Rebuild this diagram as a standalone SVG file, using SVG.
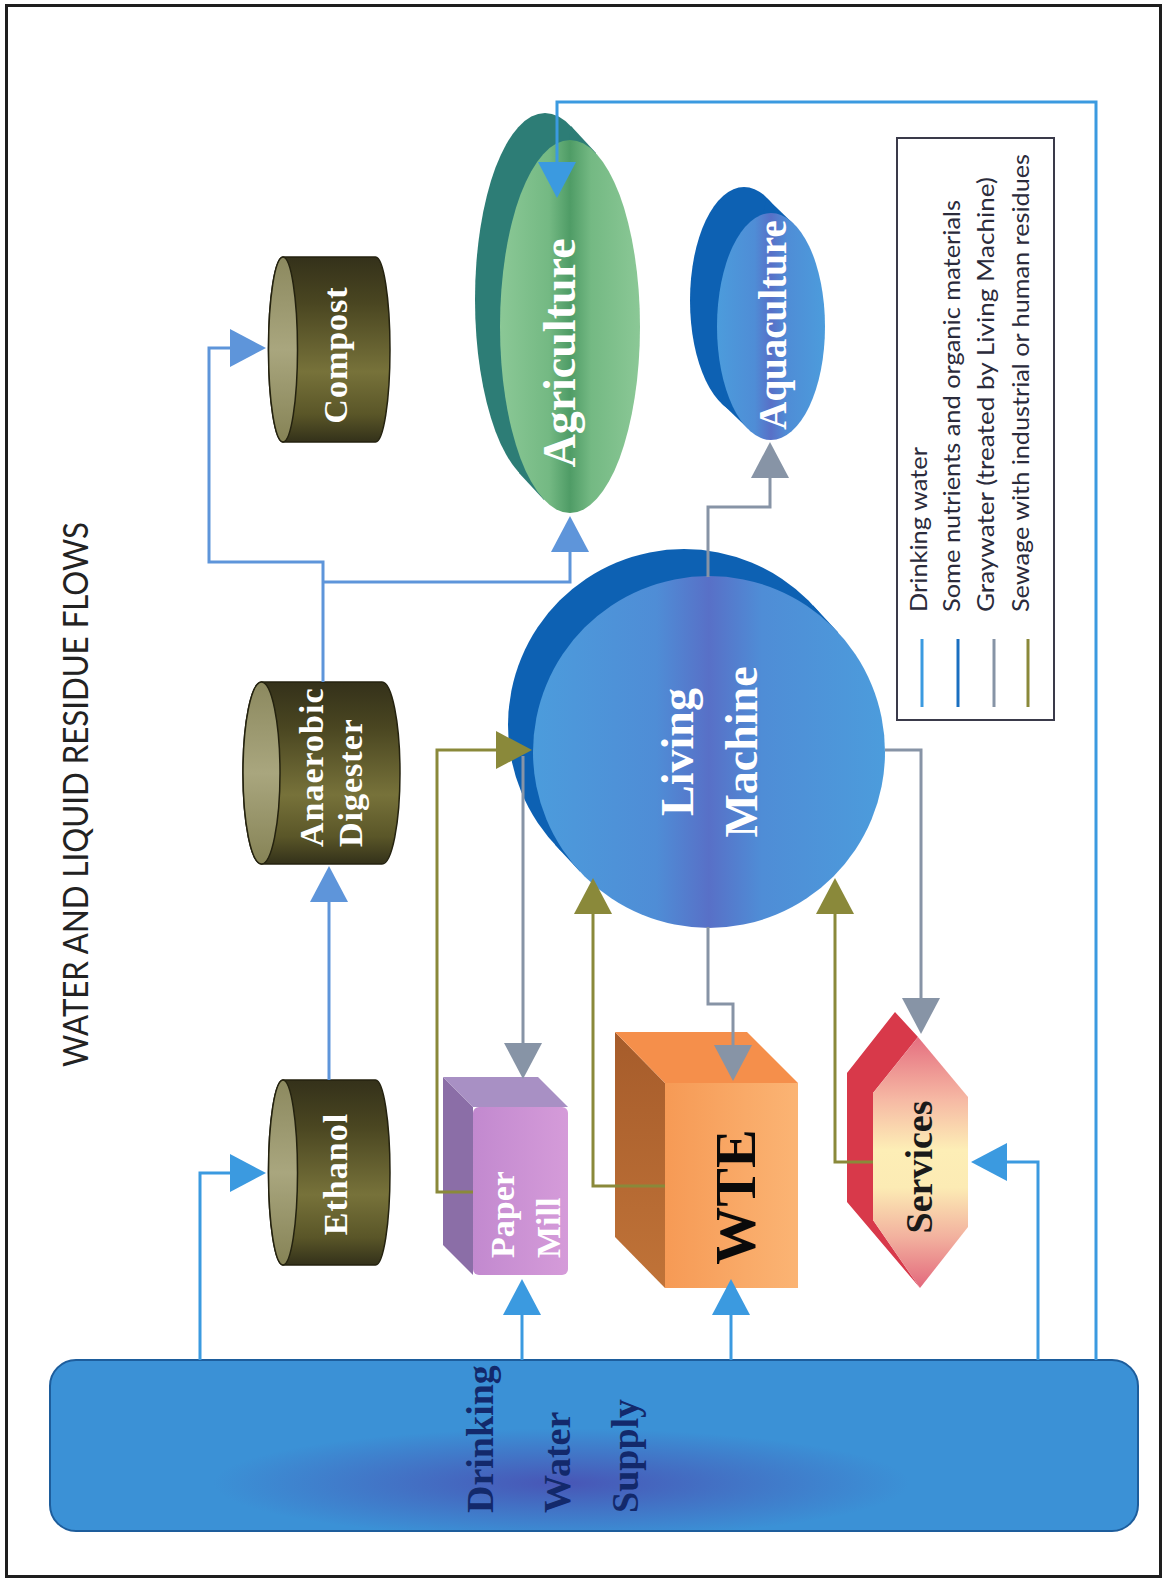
<svg xmlns="http://www.w3.org/2000/svg" width="1166" height="1581" viewBox="0 0 1166 1581">
  <defs>
    <style>
      .lbl{font-family:"Liberation Serif","Times New Roman",serif;font-weight:bold}
      .w{fill:#ffffff}
      .sans{font-family:Lato,"Open Sans","Liberation Sans",sans-serif}
      .ln{fill:none;stroke-width:3;stroke-linejoin:miter}
      .dw{stroke:#3b9ae0}
      .nu{stroke:#5e95da}
      .gr{stroke:#8794a6}
      .ol{stroke:#8a893a}
      .cyl{fill:url(#cylBody);stroke:#24220f;stroke-width:1.5}
      .cylface{fill:url(#cylFace);stroke:#24220f;stroke-width:1.5}
      .back{fill:#0d61b3}
      .legtxt{font-size:23px;fill:#2b2b3b}
    </style>
    <marker id="aDw" markerUnits="userSpaceOnUse" markerWidth="40" markerHeight="40" refX="0" refY="20" orient="auto" overflow="visible"><path d="M0,1 L36,20 L0,39 Z" fill="#3b9ae0"/></marker>
    <marker id="aNu" markerUnits="userSpaceOnUse" markerWidth="40" markerHeight="40" refX="0" refY="20" orient="auto" overflow="visible"><path d="M0,1 L36,20 L0,39 Z" fill="#5e95da"/></marker>
    <marker id="aGr" markerUnits="userSpaceOnUse" markerWidth="40" markerHeight="40" refX="0" refY="20" orient="auto" overflow="visible"><path d="M0,1 L36,20 L0,39 Z" fill="#8794a6"/></marker>
    <marker id="aOl" markerUnits="userSpaceOnUse" markerWidth="40" markerHeight="40" refX="0" refY="20" orient="auto" overflow="visible"><path d="M0,1 L36,20 L0,39 Z" fill="#8a893a"/></marker>

    <linearGradient id="cylBody" x1="0" y1="0" x2="0" y2="1">
      <stop offset="0" stop-color="#34311a"/>
      <stop offset="0.25" stop-color="#4a4621"/>
      <stop offset="0.62" stop-color="#77723a"/>
      <stop offset="0.85" stop-color="#5a5628"/>
      <stop offset="1" stop-color="#33311a"/>
    </linearGradient>
    <linearGradient id="cylFace" x1="0" y1="0" x2="0" y2="1">
      <stop offset="0" stop-color="#8c895f"/>
      <stop offset="0.5" stop-color="#a9a67e"/>
      <stop offset="1" stop-color="#868356"/>
    </linearGradient>
    <linearGradient id="agriFront" x1="0" y1="0" x2="1" y2="0">
      <stop offset="0" stop-color="#8bc896"/>
      <stop offset="0.35" stop-color="#74b983"/>
      <stop offset="0.5" stop-color="#4f9c66"/>
      <stop offset="0.65" stop-color="#74b983"/>
      <stop offset="1" stop-color="#8bc896"/>
    </linearGradient>
    <linearGradient id="blueFront" x1="0" y1="0" x2="1" y2="0">
      <stop offset="0" stop-color="#4c9cdc"/>
      <stop offset="0.35" stop-color="#4f8dd6"/>
      <stop offset="0.5" stop-color="#5870c7"/>
      <stop offset="0.65" stop-color="#4f8dd6"/>
      <stop offset="1" stop-color="#4c9cdc"/>
    </linearGradient>
    <radialGradient id="dwsFill" cx="0.47" cy="0.72" r="0.32">
      <stop offset="0" stop-color="#4856b6"/>
      <stop offset="0.5" stop-color="#4274c6"/>
      <stop offset="1" stop-color="#3b91d6"/>
    </radialGradient>
    <linearGradient id="wteFront" x1="0" y1="0" x2="1" y2="0">
      <stop offset="0" stop-color="#f69a55"/>
      <stop offset="1" stop-color="#fbb474"/>
    </linearGradient>
    <linearGradient id="wteSide" x1="0" y1="0" x2="0" y2="1">
      <stop offset="0" stop-color="#a65c2b"/>
      <stop offset="1" stop-color="#c07338"/>
    </linearGradient>
    <linearGradient id="paperFront" x1="0" y1="0" x2="1" y2="0">
      <stop offset="0" stop-color="#c289cf"/>
      <stop offset="1" stop-color="#d59bd9"/>
    </linearGradient>
    <linearGradient id="servFront" x1="0" y1="0" x2="0" y2="1">
      <stop offset="0" stop-color="#e56f80"/>
      <stop offset="0.25" stop-color="#f6b9a4"/>
      <stop offset="0.45" stop-color="#fdeeb6"/>
      <stop offset="0.6" stop-color="#fcebb4"/>
      <stop offset="0.8" stop-color="#f2b09e"/>
      <stop offset="1" stop-color="#e3687c"/>
    </linearGradient>
  </defs>

  <rect width="1166" height="1581" fill="#ffffff"/>
  <rect x="6.5" y="5.5" width="1154" height="1571" fill="none" stroke="#1e1e1e" stroke-width="3"/>

  <g id="title">
    <text class="sans" font-size="34" fill="#222222" textLength="545" lengthAdjust="spacingAndGlyphs" transform="translate(88,1067) rotate(-90)">WATER AND LIQUID RESIDUE FLOWS</text>
  </g>

  <!-- Drinking water supply tank -->
  <g id="node-supply">
    <rect x="50" y="1360" width="1088" height="171" rx="26" fill="url(#dwsFill)" stroke="#1d5d9c" stroke-width="2"/>
    <g class="lbl" font-size="38" fill="#13296b">
      <text transform="translate(493,1513) rotate(-90)">Drinking</text>
      <text transform="translate(570,1513) rotate(-90)">Water</text>
      <text transform="translate(638,1513) rotate(-90)">Supply</text>
    </g>
  </g>

  <g id="node-compost">
    <path class="cyl" d="M283,257 L375.5,257 A14.5,92.5 0 0 1 375.5,442 L283,442 A14.5,92.5 0 0 1 283,257 Z"/>
    <ellipse class="cylface" cx="283" cy="349.5" rx="14.5" ry="92.5"/>
    <text class="lbl w" font-size="34" letter-spacing="1" text-anchor="middle" transform="translate(347,355) rotate(-90)">Compost</text>
  </g>

  <g id="node-digester">
    <path class="cyl" d="M261.5,682 L382,682 A18,91 0 0 1 382,864 L261.5,864 A18.5,91 0 0 1 261.5,682 Z"/>
    <ellipse class="cylface" cx="261.5" cy="773" rx="18.5" ry="91"/>
    <g class="lbl w" font-size="34" letter-spacing="1">
      <text transform="translate(323,847) rotate(-90)">Anaerobic</text>
      <text transform="translate(362,847) rotate(-90)">Digester</text>
    </g>
  </g>

  <g id="node-ethanol">
    <path class="cyl" d="M283,1080 L375.5,1080 A14.5,92.5 0 0 1 375.5,1265 L283,1265 A14.5,92.5 0 0 1 283,1080 Z"/>
    <ellipse class="cylface" cx="283" cy="1172.5" rx="14.5" ry="92.5"/>
    <text class="lbl w" font-size="34" letter-spacing="1" text-anchor="middle" transform="translate(347,1174) rotate(-90)">Ethanol</text>
  </g>

  <g id="node-agriculture">
    <ellipse cx="545" cy="299.5" rx="70" ry="186.5" fill="#2d7d76"/>
    <polygon points="596,153 571,126 519,473 544,500" fill="#2d7d76"/>
    <ellipse cx="570" cy="326.5" rx="70" ry="186.5" fill="url(#agriFront)"/>
    <text class="lbl w" font-size="46" text-anchor="middle" transform="translate(575,353) rotate(-90)">Agriculture</text>
  </g>

  <g id="node-aquaculture">
    <ellipse cx="744" cy="300.5" rx="54" ry="113.5" class="back"/>
    <polygon points="793.6,224 766.6,198 721.4,403 748.4,429" class="back"/>
    <ellipse cx="771" cy="326.5" rx="54" ry="113.5" fill="url(#blueFront)"/>
    <text class="lbl w" font-size="39" text-anchor="middle" transform="translate(786,325) rotate(-90)">Aquaculture</text>
  </g>

  <g id="node-living-machine">
    <circle cx="684" cy="725" r="176" class="back"/>
    <polygon points="838.2,632.5 813.2,605.5 554.8,844.5 579.8,871.5" class="back"/>
    <circle cx="709" cy="752" r="176" fill="url(#blueFront)"/>
    <g class="lbl w" font-size="46" text-anchor="middle">
      <text transform="translate(693,752) rotate(-90)">Living</text>
      <text transform="translate(757,752) rotate(-90)">Machine</text>
    </g>
  </g>

  <g id="node-paper-mill">
    <polygon points="443,1077 473,1107 473,1275 443,1245" fill="#8b6ea7"/>
    <polygon points="443,1077 538,1077 568,1107 473,1107" fill="#a890c4"/>
    <rect x="473" y="1107" width="95" height="168" rx="6" fill="url(#paperFront)"/>
    <g class="lbl w" font-size="34">
      <text transform="translate(514,1258) rotate(-90)">Paper</text>
      <text transform="translate(560,1258) rotate(-90)">Mill</text>
    </g>
  </g>

  <g id="node-wte">
    <polygon points="615,1032 665,1083 665,1288 615,1237" fill="url(#wteSide)"/>
    <polygon points="615,1032 747,1032 798,1083 665,1083" fill="#f58f4b"/>
    <rect x="665" y="1083" width="133" height="205" fill="url(#wteFront)"/>
    <text class="lbl" font-size="58" fill="#0a0a0a" text-anchor="middle" transform="translate(755,1197) rotate(-90)">WTE</text>
  </g>

  <g id="node-services">
    <polygon points="895,1012 918,1037 873,1093 873,1220 920,1288 847,1202 847,1073" fill="#d8394a"/>
    <polygon points="918,1037 968,1097 968,1227 920,1288 873,1220 873,1093" fill="url(#servFront)"/>
    <text class="lbl" font-size="38" fill="#1a1a1a" text-anchor="middle" transform="translate(932,1167) rotate(-90)">Services</text>
  </g>

  <!-- flow lines -->
  <g id="connectors">
    <path class="ln dw" d="M200,1360 V1173 H230" marker-end="url(#aDw)"/>
    <path class="ln dw" d="M522,1360 V1315" marker-end="url(#aDw)"/>
    <path class="ln dw" d="M731,1360 V1315" marker-end="url(#aDw)"/>
    <path class="ln dw" d="M1038,1360 V1162 H1007" marker-end="url(#aDw)"/>
    <path class="ln dw" d="M1096,1360 V102 H557 V162" marker-end="url(#aDw)"/>

    <path class="ln nu" d="M329,1080 V902" marker-end="url(#aNu)"/>
    <path class="ln nu" d="M323,682 V562 H209 V348 H230" marker-end="url(#aNu)"/>
    <path class="ln nu" d="M323,582 H570 V552" marker-end="url(#aNu)"/>

    <path class="ln gr" d="M708,577 V507 H770 V478" marker-end="url(#aGr)"/>
    <path class="ln gr" d="M523,756 V1043" marker-end="url(#aGr)"/>
    <path class="ln gr" d="M708,927 V1004 H733 V1045" marker-end="url(#aGr)"/>
    <path class="ln gr" d="M885,750 H921 V998" marker-end="url(#aGr)"/>

    <path class="ln ol" d="M473,1192 H437 V750 H496" marker-end="url(#aOl)"/>
    <path class="ln ol" d="M665,1186 H593 V914" marker-end="url(#aOl)"/>
    <path class="ln ol" d="M873,1162 H835 V914" marker-end="url(#aOl)"/>
  </g>

  <g id="legend">
    <rect x="897" y="138" width="157" height="582" fill="#ffffff" stroke="#3a3a4a" stroke-width="2"/>
    <line x1="922" y1="639" x2="922" y2="707" stroke="#3b9ae0" stroke-width="3"/>
    <line x1="958" y1="639" x2="958" y2="707" stroke="#1a6fc0" stroke-width="3"/>
    <line x1="994" y1="639" x2="994" y2="707" stroke="#8794a6" stroke-width="3"/>
    <line x1="1028" y1="639" x2="1028" y2="707" stroke="#8a893a" stroke-width="3"/>
    <g class="sans legtxt">
      <text textLength="165" lengthAdjust="spacingAndGlyphs" transform="translate(927,612) rotate(-90)">Drinking water</text>
      <text textLength="412" lengthAdjust="spacingAndGlyphs" transform="translate(960,612) rotate(-90)">Some nutrients and organic materials</text>
      <text textLength="435" lengthAdjust="spacingAndGlyphs" transform="translate(994,612) rotate(-90)">Graywater (treated by Living Machine)</text>
      <text textLength="458" lengthAdjust="spacingAndGlyphs" transform="translate(1029,612) rotate(-90)">Sewage with industrial or human residues</text>
    </g>
  </g>
</svg>
